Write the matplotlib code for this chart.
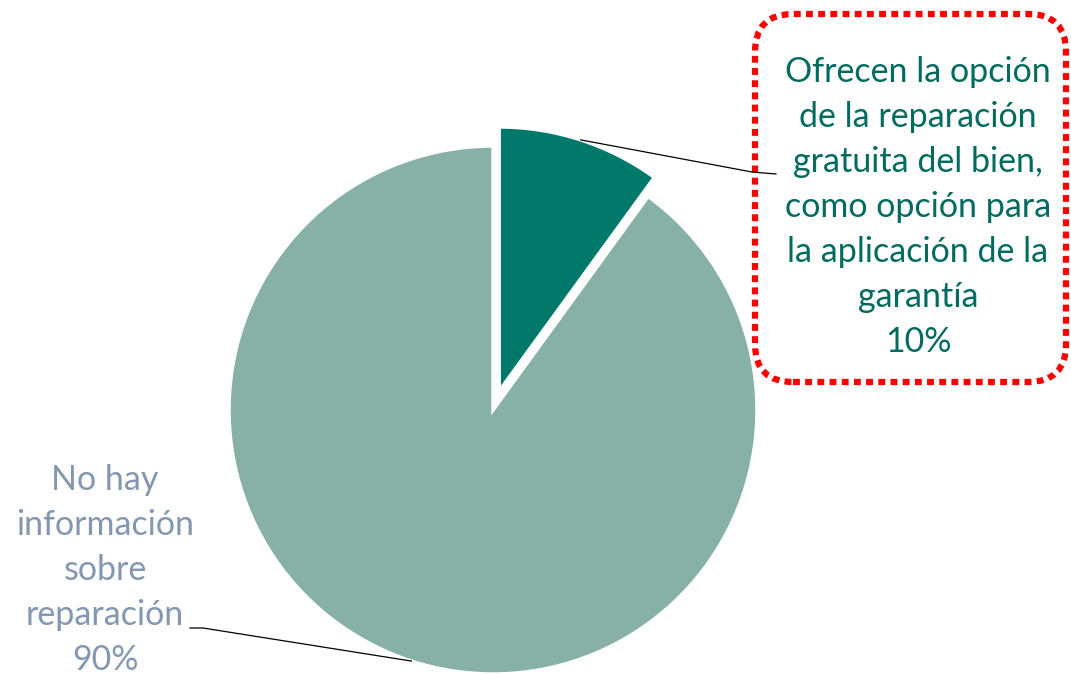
import matplotlib
matplotlib.use('Agg')
import matplotlib.pyplot as plt
from matplotlib.patches import FancyBboxPatch
import numpy as np

# data
labels = ['Ofrecen la opción\nde la reparación\ngratuita del bien,\ncomo opción para\nla aplicación de la\ngarantía',
          'No hay\ninformación\nsobre\nreparación']
values = [10, 90]
colors = ['#00796B', '#87B0A6']
text_colors = ['#006B5E', '#8497B0']

plt.rcParams['font.family'] = ['Lato', 'DejaVu Sans']

W, H = 1071, 674
fig = plt.figure(figsize=(W / 100, H / 100), dpi=100)
ax = fig.add_axes([0, 0, 1, 1])

R = 264
CX, CY = 493, H - 410
explode = [20, 0]   # pie explode is in data units here
wedges, _ = ax.pie(values, colors=colors, startangle=90, counterclock=False,
                   explode=explode, radius=R, center=(CX, CY),
                   wedgeprops=dict(edgecolor='white', linewidth=2.5), frame=True)
ax.set_xlim(0, W); ax.set_ylim(0, H)
ax.set_aspect('equal')
ax.axis('off')

pct = [f'{v / sum(values) * 100:.0f}%' for v in values]

def anchor(w):
    a = np.deg2rad((w.theta1 + w.theta2) / 2)
    cx, cy = w.center
    return cx + w.r * np.cos(a), cy + w.r * np.sin(a)

# right label (10%)
ax0, ay0 = anchor(wedges[0])
ax.plot([ax0, 752, 776], [ay0, H - 172, H - 174], color='black', lw=0.9)
ax.text(918, H - 207, labels[0] + '\n' + pct[0], ha='center', va='center',
        fontsize=24.5, color=text_colors[0], linespacing=1.5)
box = FancyBboxPatch((755, H - 382), 311, 368,
                     boxstyle='round,pad=0,rounding_size=38',
                     fill=False, edgecolor='#FF0000', lw=4.5,
                     linestyle=(0, (1.1, 0.85)))
ax.add_patch(box)

# left label (90%)
bx0, by0 = anchor(wedges[1])
ax.plot([bx0, 203, 190], [by0, H - 628, H - 628], color='black', lw=0.9)
ax.text(105, H - 570, labels[1] + '\n' + pct[1], ha='center', va='center',
        fontsize=24.5, color=text_colors[1], linespacing=1.5)

fig.savefig('out.png', dpi=100, facecolor='white')
